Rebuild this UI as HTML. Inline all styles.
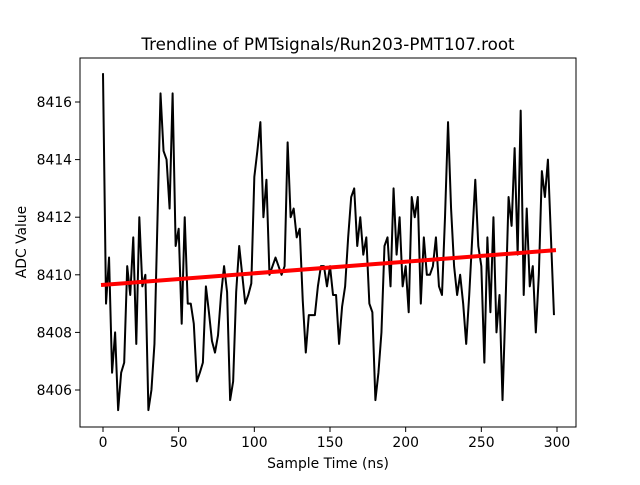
<!DOCTYPE html>
<html><head><meta charset="utf-8"><style>
body{margin:0;background:#fff;}
svg text{font-family:"DejaVu Sans","Liberation Sans",sans-serif;fill:#000;}
</style></head><body>
<svg id="chart" width="640" height="480" xmlns="http://www.w3.org/2000/svg">
<rect width="640" height="480" fill="#fff"/>
<g id="plot"></g>
<rect x="80" y="58" width="496" height="369" fill="none" stroke="#000" stroke-width="1"/>
<g id="ticks"></g>
<text x="328" y="50" text-anchor="middle" font-size="16.7">Trendline of PMTsignals/Run203-PMT107.root</text>
<text x="328" y="468" text-anchor="middle" font-size="13.9">Sample Time (ns)</text>
<text transform="translate(26,242) rotate(-90)" text-anchor="middle" font-size="13.9">ADC Value</text>
</svg>
<script>
const adcValues=[8417.0,8409.0,8410.6,8406.6,8408.0,8405.3,8406.6,8406.95,8410.3,8409.3,8411.3,8407.6,8412.0,8409.6,8410.0,8405.3,8406.0,8407.6,8411.9,8416.3,8414.3,8414.0,8412.3,8416.3,8411.0,8411.6,8408.3,8412.0,8409.0,8409.0,8408.3,8406.3,8406.6,8406.95,8409.6,8408.7,8407.7,8407.3,8407.9,8409.3,8410.3,8409.4,8405.65,8406.3,8409.4,8411.0,8410.0,8409.0,8409.3,8409.7,8413.4,8414.3,8415.3,8412.0,8413.3,8410.0,8410.3,8410.6,8410.3,8410.0,8410.3,8414.6,8412.0,8412.3,8411.3,8411.6,8409.1,8407.3,8408.6,8408.6,8408.6,8409.6,8410.3,8410.3,8409.6,8410.3,8409.3,8409.3,8407.6,8408.9,8409.6,8411.3,8412.7,8413.0,8411.0,8412.0,8410.7,8411.3,8409.0,8408.7,8405.65,8406.6,8408.0,8411.0,8411.3,8409.6,8413.0,8410.7,8412.0,8409.6,8410.3,8408.7,8412.7,8412.0,8412.7,8409.0,8411.3,8410.0,8410.0,8410.3,8411.3,8409.6,8409.3,8412.0,8415.3,8412.3,8410.3,8409.3,8410.0,8409.0,8407.6,8409.3,8411.3,8413.3,8411.0,8410.3,8406.95,8411.3,8408.7,8412.0,8408.0,8409.3,8405.65,8409.0,8412.7,8411.7,8414.4,8410.7,8415.7,8409.3,8412.3,8409.6,8410.3,8408.0,8410.0,8413.6,8412.7,8414.0,8411.3,8408.6];
const sampleStep=2;
const trendStart=[0,8409.65];
const trendEnd=[298,8410.85];
const xTicks=[0,50,100,150,200,250,300];
const yTicks=[8406,8408,8410,8412,8414,8416];

const NS="http://www.w3.org/2000/svg";
function xs(t){return 103+(t-0)*454/300;}
function ys(v){return 102+(8416-v)*28.8;}
const plot=document.getElementById('plot');
let d=adcValues.map((v,i)=>(i?'L':'M')+xs(i*sampleStep).toFixed(2)+','+ys(v).toFixed(2)).join(' ');
const line=document.createElementNS(NS,'path');
line.setAttribute('d',d);line.setAttribute('fill','none');line.setAttribute('stroke','#000');line.setAttribute('stroke-width','2');line.setAttribute('stroke-linejoin','round');


plot.appendChild(line);
const tr=document.createElementNS(NS,'line');
tr.setAttribute('x1',xs(trendStart[0]));tr.setAttribute('y1',ys(trendStart[1]));
tr.setAttribute('x2',xs(trendEnd[0]));tr.setAttribute('y2',ys(trendEnd[1]));
tr.setAttribute('stroke','#ff0000');tr.setAttribute('stroke-width','4');tr.setAttribute('stroke-linecap','square');


plot.appendChild(tr);
const tk=document.getElementById('ticks');
xTicks.forEach(t=>{
  const l=document.createElementNS(NS,'line');
  l.setAttribute('x1',xs(t));l.setAttribute('x2',xs(t));l.setAttribute('y1',427);l.setAttribute('y2',432);l.setAttribute('stroke','#000');
  
  
  tk.appendChild(l);
  const tx=document.createElementNS(NS,'text');
  tx.setAttribute('x',xs(t));tx.setAttribute('y',447);tx.setAttribute('text-anchor','middle');tx.setAttribute('font-size','13.9');
  tx.textContent=t;
  
  
  tk.appendChild(tx);
});
yTicks.forEach(v=>{
  const l=document.createElementNS(NS,'line');
  l.setAttribute('x1',75);l.setAttribute('x2',80);l.setAttribute('y1',ys(v));l.setAttribute('y2',ys(v));l.setAttribute('stroke','#000');
  
  
  tk.appendChild(l);
  const tx=document.createElementNS(NS,'text');
  tx.setAttribute('x',72);tx.setAttribute('y',ys(v)+5);tx.setAttribute('text-anchor','end');tx.setAttribute('font-size','13.9');
  tx.textContent=v;
  
  
  tk.appendChild(tx);
});
</script>
</body></html>
